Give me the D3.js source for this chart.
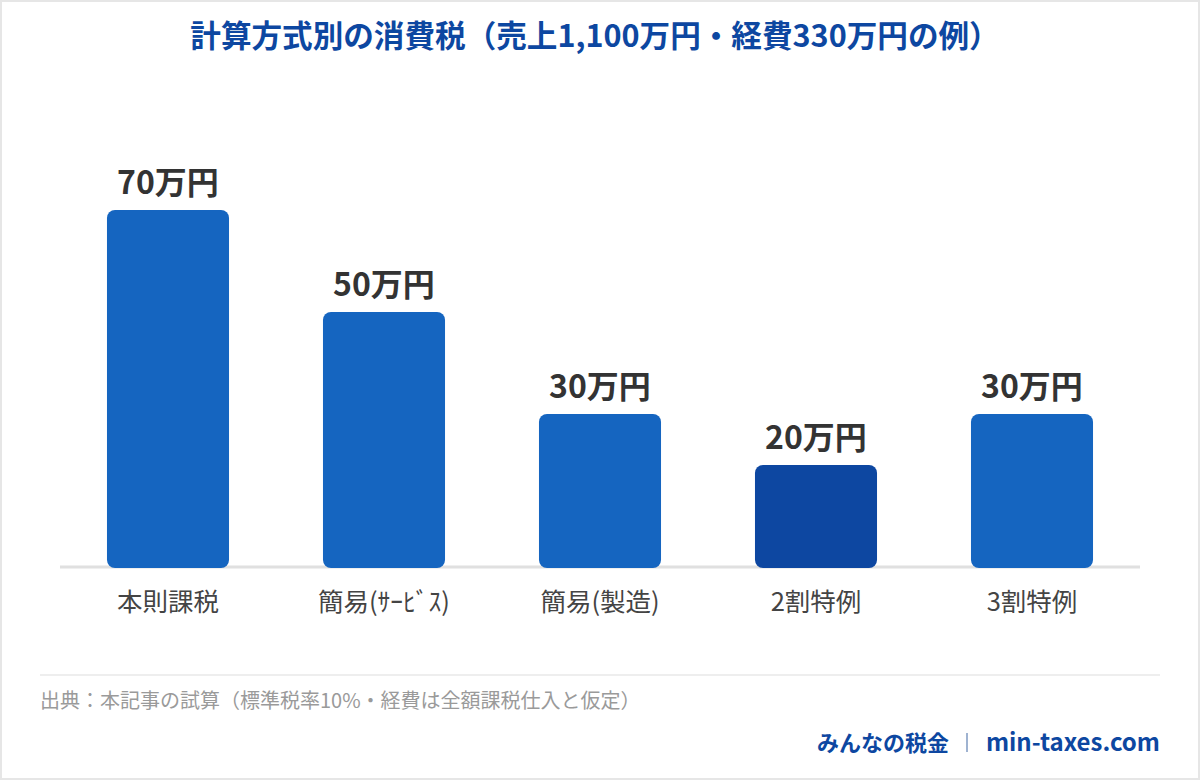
<!DOCTYPE html>
<html><head><meta charset="utf-8">
<script src="https://cdn.jsdelivr.net/npm/d3@7"></script>
<style>
html,body{margin:0;padding:0;background:#fff;}
svg{display:block;font-family:"Noto Sans CJK JP",sans-serif;}
</style></head>
<body>
<svg id="chart" width="1200" height="780"></svg>
<script>
const categories = ["本則課税", "簡易(ｻｰﾋﾞｽ)", "簡易(製造)", "2割特例", "3割特例"];
const values = [70, 50, 30, 20, 30];
const highlight = [false, false, false, true, false];
const valueLabels = ["70万円", "50万円", "30万円", "20万円", "30万円"];
const titleText = "計算方式別の消費税（売上1,100万円・経費330万円の例）";
const sourceText = "出典：本記事の試算（標準税率10%・経費は全額課税仕入と仮定）";

const svg = d3.select("#chart");
const W = 1200, H = 780;

svg.append("rect").attr("x",1).attr("y",1).attr("width",W-2).attr("height",H-2)
  .attr("fill","#fff").attr("stroke","#e6e6e6").attr("stroke-width",2);

svg.append("text").attr("x",595).attr("y",47).attr("text-anchor","middle")
  .attr("font-size",30.6).attr("font-weight","bold").attr("fill","#0D47A1")
  .text(titleText);

const x = d3.scaleBand().domain(categories).range([60,1140])
  .paddingInner(0.435).paddingOuter(0.2175);
const y = d3.scaleLinear().domain([0,70]).range([567,210]);

svg.append("line").attr("x1",60).attr("x2",1140).attr("y1",567).attr("y2",567)
  .attr("stroke","#e0e0e0").attr("stroke-width",3);

const data = categories.map((c,i)=>({c, v:values[i], h:highlight[i], l:valueLabels[i]}));

svg.selectAll("rect.bar").data(data).join("rect").attr("class","bar")
  .attr("x",d=>x(d.c)).attr("width",x.bandwidth())
  .attr("y",d=>y(d.v)).attr("height",d=>y(0)-y(d.v)+1)
  .attr("rx",8).attr("ry",8)
  .attr("fill",d=>d.h?"#0D47A1":"#1565C0");

svg.selectAll("text.val").data(data).join("text").attr("class","val")
  .attr("x",d=>x(d.c)+x.bandwidth()/2).attr("y",d=>y(d.v)-16)
  .attr("text-anchor","middle").attr("font-size",32).attr("font-weight","bold")
  .attr("fill","#333").text(d=>d.l);

svg.selectAll("text.cat").data(data).join("text").attr("class","cat")
  .attr("x",d=>x(d.c)+x.bandwidth()/2).attr("y",611)
  .attr("text-anchor","middle").attr("font-size",25.5)
  .attr("fill","#444").text(d=>d.c);

svg.append("line").attr("x1",40).attr("x2",1160).attr("y1",675).attr("y2",675)
  .attr("stroke","#eeeeee").attr("stroke-width",2);

svg.append("text").attr("x",40).attr("y",708).attr("font-size",20)
  .attr("fill","#9a9a9a").text(sourceText);

svg.append("text").attr("x",1160).attr("y",751).attr("text-anchor","end")
  .attr("font-size",24).attr("font-weight","bold").attr("fill","#0D47A1")
  .text("min-taxes.com");
svg.append("line").attr("x1",967).attr("x2",967).attr("y1",733).attr("y2",752)
  .attr("stroke","#9fb3d1").attr("stroke-width",2);
svg.append("text").attr("x",949).attr("y",751).attr("text-anchor","end")
  .attr("font-size",22).attr("font-weight","bold").attr("fill","#0D47A1")
  .text("みんなの税金");
</script>
</body></html>
